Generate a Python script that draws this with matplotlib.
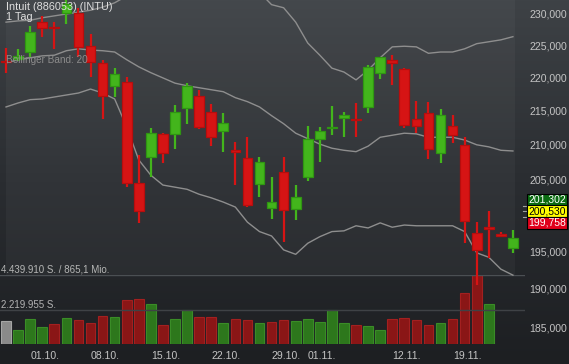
import numpy as np
import matplotlib.pyplot as plt
from matplotlib.colors import LinearSegmentedColormap
from matplotlib.ticker import NullLocator, FixedLocator
from matplotlib.transforms import blended_transform_factory, offset_copy

plt.rcParams['font.family'] = ['Liberation Sans', 'DejaVu Sans']

W, H = 569, 364

dates = ['26.09.', '27.09.', '28.09.', '01.10.', '02.10.', '03.10.', '04.10.', '05.10.',
         '08.10.', '09.10.', '10.10.', '11.10.', '12.10.', '15.10.', '16.10.', '17.10.',
         '18.10.', '19.10.', '22.10.', '23.10.', '24.10.', '25.10.', '26.10.', '29.10.',
         '30.10.', '31.10.', '01.11.', '02.11.', '05.11.', '06.11.', '07.11.', '08.11.',
         '09.11.', '12.11.', '13.11.', '14.11.', '15.11.', '16.11.', '19.11.', '20.11.',
         '21.11.', '22.11.', '23.11.']
tick_dates = ['01.10.', '08.10.', '15.10.', '22.10.', '29.10.', '01.11.', '12.11.', '19.11.']

opens = [222.6, 222.9, 224.0, 228.7, 227.9, 230.2, 230.2, 224.9, 222.3, 218.8, 219.4,
         204.5, 208.2, 211.6, 211.6, 215.4, 217.3, 214.8, 212.0, 209.2, 208.1, 204.4,
         201.0, 206.1, 200.8, 205.4, 210.9, 212.4, 214.0, 213.8, 215.6, 220.8, 222.8,
         221.4, 213.8, 214.7, 208.8, 212.8, 210.0, 197.5, 198.3, 197.4, 195.5]
highs = [224.6, 224.5, 228.1, 229.7, 228.7, 232.6, 231.0, 226.8, 222.8, 221.5, 220.1,
         208.5, 212.5, 211.7, 215.9, 219.2, 218.2, 216.1, 214.7, 210.4, 211.1, 208.2,
         205.4, 208.2, 204.2, 212.8, 212.6, 215.7, 214.8, 216.2, 222.0, 223.3, 223.5,
         221.5, 216.5, 216.4, 215.3, 214.4, 211.1, 199.0, 200.6, 197.7, 197.9]
lows = [220.8, 222.6, 223.2, 226.4, 224.5, 228.4, 223.2, 220.1, 213.8, 217.1, 203.9,
        198.9, 205.4, 207.4, 209.4, 213.1, 212.3, 209.8, 209.0, 204.2, 201.1, 202.5,
        199.4, 196.3, 199.3, 204.8, 207.5, 211.4, 211.1, 211.1, 214.7, 219.8, 218.9,
        212.5, 211.7, 207.9, 207.4, 210.3, 196.1, 190.5, 194.1, 197.0, 194.8]
closes = [222.4, 223.4, 227.1, 227.8, 227.7, 231.6, 224.8, 222.5, 217.3, 220.6, 204.5,
          200.6, 211.7, 208.8, 214.8, 218.8, 212.6, 211.1, 213.2, 209.0, 201.4, 207.5,
          201.8, 200.7, 202.5, 210.9, 212.0, 212.6, 214.4, 213.6, 221.7, 223.2, 222.3,
          212.9, 212.8, 209.4, 214.4, 211.4, 199.2, 195.2, 198.1, 197.1, 196.8]
volumes = [1480000, 900000, 1590000, 1090000, 1290000, 1650000, 1520000, 1330000,
           1820000, 1720000, 2810000, 2900000, 2600000, 1200000, 1590000, 2170000,
           1720000, 1720000, 1330000, 1590000, 1520000, 1370000, 1420000, 1520000,
           1480000, 1590000, 1420000, 2170000, 1350000, 1200000, 1140000, 920000,
           1590000, 1650000, 1560000, 1200000, 1350000, 1590000, 3260000, 4439910,
           2570000, 0, 0]

bb_upper = [228.7, 228.9, 229.0, 229.4, 229.7, 230.0, 230.3, 230.6, 231.1, 231.8, 232.9,
            235.5, 235.9, 236.0, 234.7, 233.9, 234.0, 233.9, 233.9, 233.5, 233.7, 233.5,
            231.5, 231.0, 228.7, 225.4, 223.5, 221.5, 220.9, 219.7, 221.2, 223.1, 224.8,
            224.9, 224.8, 223.8, 224.0, 224.0, 224.5, 225.3, 225.6, 225.9, 226.4]
bb_mid = [222.3, 222.8, 223.1, 223.4, 223.5, 224.2, 224.5, 224.3, 224.2, 224.0, 222.8,
          221.7, 220.8, 220.0, 219.2, 218.8, 218.5, 218.2, 217.9, 217.0, 216.4, 215.6,
          214.3, 213.1, 211.7, 210.9, 210.1, 209.5, 209.2, 209.0, 209.8, 211.1, 211.4,
          211.7, 211.6, 211.1, 211.1, 211.1, 210.7, 210.0, 209.7, 209.2, 209.1]
bb_lower = [215.6, 216.2, 216.7, 216.8, 217.1, 217.4, 217.7, 218.3, 217.7, 216.8, 212.6,
            207.8, 205.6, 204.2, 203.9, 203.6, 202.9, 202.4, 201.8, 201.1, 199.0, 197.7,
            197.1, 195.2, 194.6, 196.1, 197.0, 197.7, 197.8, 198.5, 198.2, 198.9, 198.3,
            198.6, 198.5, 198.5, 198.5, 198.5, 197.7, 194.8, 194.2, 192.6, 191.8]

price_ticks = [185, 190, 195, 205, 210, 215, 220, 225, 230]
quotes = [201.302, 200.530, 199.758]
quote_colors = [('#0b6b12', 'white'), ('#ffff00', 'black'), ('#e0001b', 'white')]

GREEN = '#43b51c'
GREEN_EDGE = '#2f9612'
RED = '#d61414'
RED_EDGE = '#b80d0d'


def frac(x0, y0, x1, y1):
    return [x0 / W, 1 - y1 / H, (x1 - x0) / W, (y1 - y0) / H]


fig = plt.figure(figsize=(W / 100, H / 100), dpi=100)

bg = fig.add_axes([0, 0, 1, 1])
bg.axis('off')
cmap = LinearSegmentedColormap.from_list('bg', ['#3e4246', '#2a2d31', '#1d1f22'])
bg.imshow(np.linspace(0, 1, 256)[:, None], aspect='auto', cmap=cmap,
          extent=[0, 1, 0, 1], zorder=0)

n = len(closes)
x = np.arange(n)
xlim = (-0.5, 43.0)

# volume panel
axv = fig.add_axes(frac(0, 275, 525, 344))
axv.patch.set_alpha(0)
vmax = max(volumes)
axv.set_ylim(0, vmax)
axv.set_xlim(*xlim)
vcol, vedge = [], []
for i in range(n):
    if i == 0:
        vcol.append('#8a8a8a'); vedge.append('#a5a5a5')
    elif closes[i] >= closes[i - 1]:
        vcol.append('#2d771c'); vedge.append('#3a8c27')
    else:
        vcol.append('#8a1616'); vedge.append('#a32020')
mask = [v > 0 for v in volumes]
axv.bar(x[mask], np.array(volumes)[mask], width=0.8,
        color=np.array(vcol)[mask], edgecolor=np.array(vedge)[mask], linewidth=0.8)
axv.axhline(vmax, color='#4b4f53', lw=1)
axv.axhline(vmax / 2, color='#3f4246', lw=1)
axv.axis('off')
axv.text(-0.45, vmax, '4.439.910 S. / 865,1 Mio.', color='#b4b4b4', fontsize=7,
         va='bottom', ha='left')
axv.text(-0.45, vmax / 2, '2.219.955 S.', color='#b4b4b4', fontsize=7,
         va='bottom', ha='left')

# price panel
ax = fig.add_axes(frac(0, 0, 525, 347))
ax.patch.set_alpha(0)
ax.set_yscale('log')
ax.set_ylim(182.45, 232.25)
ax.set_xlim(*xlim)
ax.axvspan(0, 42.2, ymin=1 - 275 / 347, ymax=1, color='white', alpha=0.035, lw=0)

for band in (bb_upper, bb_mid, bb_lower):
    ax.plot(x, band, color='#8e8e8e', lw=1.0, zorder=2)

for i in range(n):
    up = closes[i] >= opens[i]
    c, e = (GREEN, GREEN_EDGE) if up else (RED, RED_EDGE)
    ax.vlines(i, lows[i], highs[i], color=c, lw=1.6, zorder=3)
    lo, hi = min(opens[i], closes[i]), max(opens[i], closes[i])
    ax.bar(i, hi - lo, bottom=lo, width=0.8, color=c, edgecolor=e, lw=0.9, zorder=4)

ax.set_xticks([dates.index(d) + 0.2 for d in tick_dates])
ax.set_xticklabels(tick_dates)
ax.yaxis.tick_right()
ax.yaxis.set_major_locator(FixedLocator(price_ticks))
ax.yaxis.set_minor_locator(NullLocator())
ax.set_yticklabels([f'{p:.3f}'.replace('.', ',') for p in price_ticks])
ax.tick_params(axis='y', length=0, pad=3, labelsize=7.6, labelcolor='#c4c4c4')
ax.tick_params(axis='x', length=0, pad=3, labelsize=7.6, labelcolor='#c4c4c4')
for s in ax.spines.values():
    s.set_visible(False)

# quote boxes on the right axis
tr = blended_transform_factory(fig.transFigure, ax.transData)
for k, (q, (fc, tc)) in enumerate(zip(quotes, quote_colors)):
    ax.plot([523 / W, 527 / W], [q, q], color='#a0a0a0', lw=0.8, transform=tr,
            clip_on=False)
    t = offset_copy(tr, fig=fig, x=0, y=(1 - k) * 11.5 * 0.72, units='points')
    ax.text(528.5 / W, quotes[1], f'{q:.3f}'.replace('.', ','), transform=t,
            fontsize=7.5, color=tc, va='center', ha='left', clip_on=False,
            bbox=dict(boxstyle='square,pad=0.1', fc=fc, ec='black', lw=0.8))

fig.text(6 / W, 1 - 10 / H, 'Intuit (886053) (INTU)', color='#dedede', fontsize=7.8,
         va='baseline', zorder=10)
fig.text(6 / W, 1 - 20.5 / H, '1 Tag', color='#dedede', fontsize=7.8, va='baseline',
         zorder=10)
fig.text(6 / W, 1 - 63 / H, 'Bollinger Band: 20', color='#8c8c8c', fontsize=7.2,
         va='baseline', zorder=10)

fig.savefig('out.png', dpi=100)
